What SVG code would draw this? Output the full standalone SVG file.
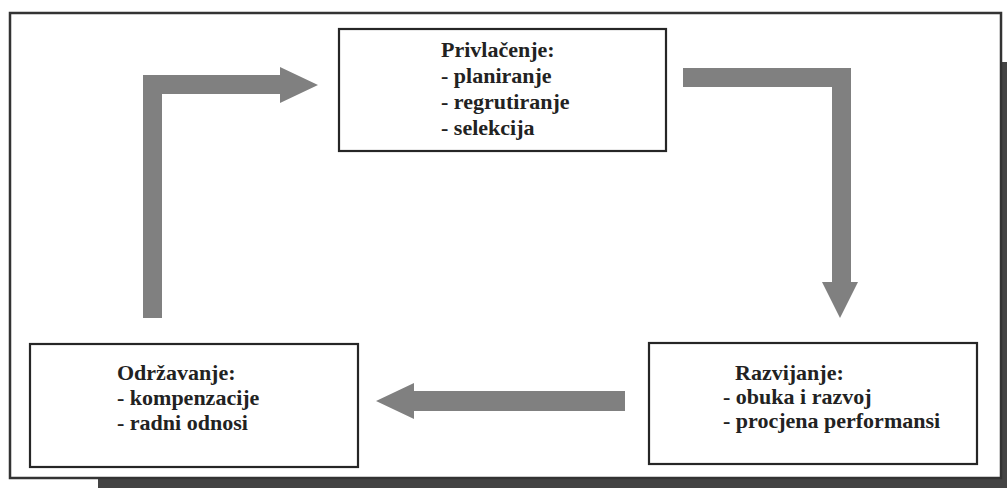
<svg xmlns="http://www.w3.org/2000/svg" width="1007" height="488" viewBox="0 0 1007 488">
  <style>
    .box { fill: #ffffff; stroke: #262626; stroke-width: 2.2; }
    .lbl { font-family: "Liberation Serif", "Times New Roman", serif; font-weight: bold; font-size: 22px; fill: #222222; }
    .arrow { fill: #808080; }
  </style>
  <rect width="1007" height="488" fill="#ffffff"/>
  <g id="frame">
    <rect x="98" y="62" width="920" height="440" fill="#444444"/>
    <rect x="10" y="13" width="991" height="465" fill="#ffffff" stroke="#333333" stroke-width="2.5"/>
  </g>
  <g id="connectors">
    <path class="arrow" d="M143,318 L143,75 L280,75 L280,67 L318,85 L280,103 L280,94 L162,94 L162,318 Z"/>
    <path class="arrow" d="M683,68 L851,68 L851,282 L858,282 L840,318 L822,282 L832,282 L832,87 L683,87 Z"/>
    <path class="arrow" d="M625,391 L625,411 L414,411 L414,419 L376,401 L414,383 L414,391 Z"/>
  </g>
  <g id="privlacenje">
    <rect class="box" x="339" y="29" width="327" height="122"/>
    <text class="lbl" x="441" y="57">Privlačenje:</text>
    <text class="lbl" x="441" y="83">- planiranje</text>
    <text class="lbl" x="441" y="109">- regrutiranje</text>
    <text class="lbl" x="441" y="135">- selekcija</text>
  </g>
  <g id="odrzavanje">
    <rect class="box" x="30" y="344" width="328" height="123"/>
    <text class="lbl" x="117" y="380">Održavanje:</text>
    <text class="lbl" x="117" y="405">- kompenzacije</text>
    <text class="lbl" x="117" y="430">- radni odnosi</text>
  </g>
  <g id="razvijanje">
    <rect class="box" x="649" y="343" width="328" height="121"/>
    <text class="lbl" x="735" y="380">Razvijanje:</text>
    <text class="lbl" x="723" y="404">- obuka i razvoj</text>
    <text class="lbl" x="723" y="428">- procjena performansi</text>
  </g>
</svg>
